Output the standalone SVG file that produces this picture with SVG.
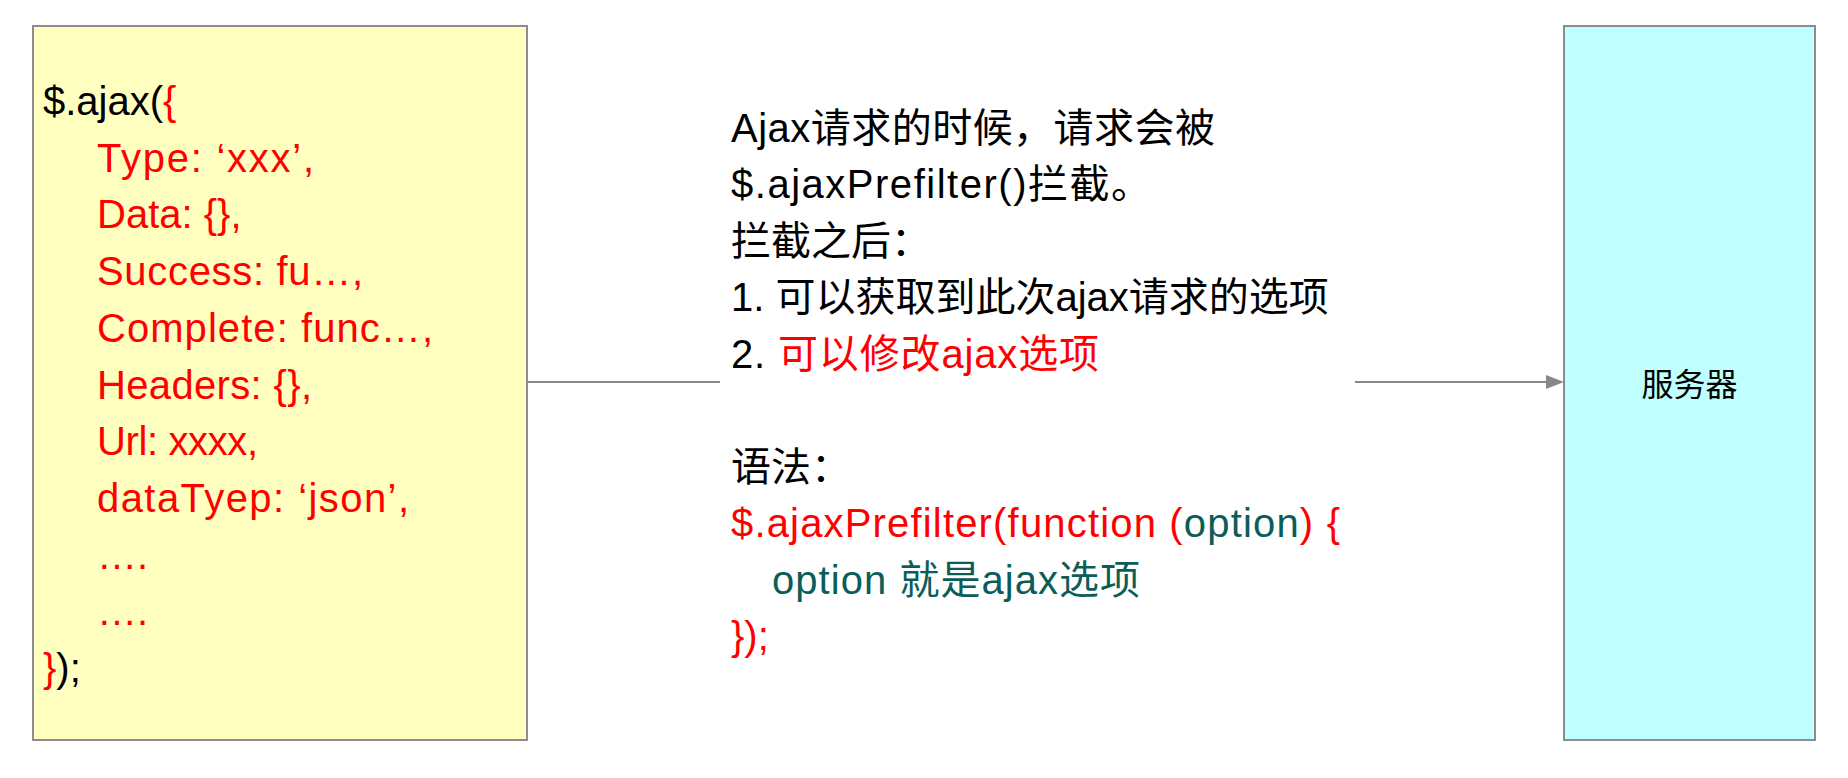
<svg xmlns="http://www.w3.org/2000/svg" width="1848" height="778" viewBox="0 0 1848 778">
<defs>
<style>
.t{font-family:"Liberation Sans","Noto Sans CJK SC",sans-serif;font-size:40px;fill:#000}
.r{fill:#ff0000}
.g{fill:#0b5d5a}
.box{stroke:#8c8c8c;stroke-width:2}
.conn{stroke:#888;stroke-width:2;fill:none}
</style>
</defs>
<rect width="1848" height="778" fill="#fff"/>
<g id="connectors">
<line class="conn" x1="527" y1="382" x2="720" y2="382"/>
<path class="conn" d="M1355,382 L1546,382"/>
<path d="M1546,375 L1564,382 L1546,389 Z" fill="#888"/>
</g>
<g id="ajax-box">
<rect class="box" x="33" y="26" width="494" height="714" fill="#ffffc0"/>
<text class="t" x="43" y="115">$.ajax(<tspan class="r">{</tspan></text>
<text class="t r" x="97" y="171.7" textLength="217" lengthAdjust="spacing">Type: ‘xxx’,</text>
<text class="t r" x="97" y="228.4">Data: {},</text>
<text class="t r" x="97" y="285" textLength="266" lengthAdjust="spacing">Success: fu…,</text>
<text class="t r" x="97" y="341.8" textLength="336" lengthAdjust="spacing">Complete: func…,</text>
<text class="t r" x="97" y="398.5" textLength="215" lengthAdjust="spacing">Headers: {},</text>
<text class="t r" x="97" y="455" textLength="161" lengthAdjust="spacing">Url: xxxx,</text>
<text class="t r" x="97" y="511.8" textLength="312" lengthAdjust="spacing">dataTyep: ‘json’,</text>
<text class="t r" x="97" y="568.5">….</text>
<text class="t r" x="97" y="625">….</text>
<text class="t" x="43" y="681.8"><tspan class="r">}</tspan>);</text>
</g>
<g id="description">
<text class="t" x="731" y="141.5" textLength="484" lengthAdjust="spacing">Ajax请求的时候，请求会被</text>
<text class="t" x="731" y="198" textLength="420" lengthAdjust="spacing">$.ajaxPrefilter()拦截。</text>
<text class="t" x="731" y="254.5">拦截之后：</text>
<text class="t" x="731" y="311">1. 可以获取到此次ajax请求的选项</text>
<text class="t" x="731" y="367.5" textLength="368" lengthAdjust="spacing">2. <tspan class="r">可以修改ajax选项</tspan></text>
<text class="t" x="731" y="480.5">语法：</text>
<text class="t r" x="731" y="537" textLength="609" lengthAdjust="spacing">$.ajaxPrefilter(function (<tspan class="g">option</tspan>) {</text>
<text class="t g" x="772" y="593.5" textLength="368" lengthAdjust="spacing">option 就是ajax选项</text>
<text class="t r" x="731" y="650">});</text>
</g>
<g id="server">
<rect class="box" x="1564" y="26" width="251" height="714" fill="#bfffff"/>
<text class="t" x="1689.5" y="396" text-anchor="middle" style="font-size:32px">服务器</text>
</g>
</svg>
